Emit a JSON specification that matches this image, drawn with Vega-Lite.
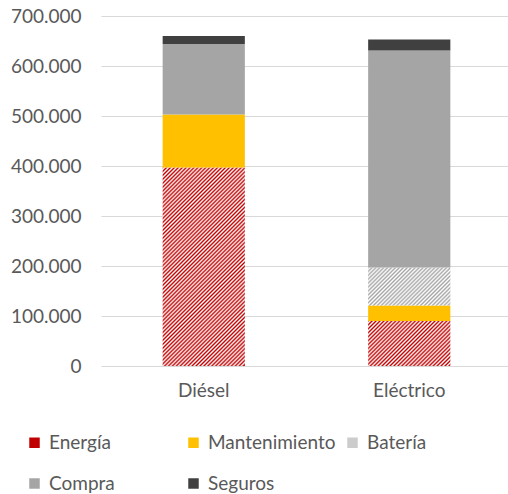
{
  "$schema": "https://vega.github.io/schema/vega-lite/v6.json",
  "width": 411,
  "height": 350,
  "autosize": {"type": "none"},
  "padding": {"left": 101, "top": 16, "right": 0, "bottom": 128},
  "background": "white",
  "data": {
    "values": [
      {"tipo": "Diésel", "concepto": "Energía", "valor": 397000, "orden": 1},
      {"tipo": "Diésel", "concepto": "Mantenimiento", "valor": 106000, "orden": 2},
      {"tipo": "Diésel", "concepto": "Compra", "valor": 141000, "orden": 4},
      {"tipo": "Diésel", "concepto": "Seguros", "valor": 16000, "orden": 5},
      {"tipo": "Eléctrico", "concepto": "Energía", "valor": 90000, "orden": 1},
      {"tipo": "Eléctrico", "concepto": "Mantenimiento", "valor": 31000, "orden": 2},
      {"tipo": "Eléctrico", "concepto": "Batería", "valor": 76000, "orden": 3},
      {"tipo": "Eléctrico", "concepto": "Compra", "valor": 434000, "orden": 4},
      {"tipo": "Eléctrico", "concepto": "Seguros", "valor": 22000, "orden": 5}
    ]
  },
  "mark": {"type": "bar"},
  "encoding": {
    "x": {
      "field": "tipo", "type": "nominal", "sort": ["Diésel", "Eléctrico"],
      "scale": {"paddingInner": 0.6, "paddingOuter": 0.3},
      "axis": {"title": null, "labelAngle": 0, "labelPadding": 15, "ticks": false, "domain": false, "labelFontSize": 19, "labelColor": "#595959", "grid": false}
    },
    "y": {
      "field": "valor", "type": "quantitative", "stack": "zero",
      "scale": {"domain": [0, 700000]},
      "axis": {"title": null, "values": [0, 100000, 200000, 300000, 400000, 500000, 600000, 700000], "format": ",d", "labelPadding": 20, "ticks": false, "domain": false, "gridColor": "#d9d9d9", "gridWidth": 1, "labelFontSize": 19, "labelColor": "#595959"}
    },
    "order": {"field": "orden", "type": "quantitative", "sort": "ascending"},
    "color": {
      "condition": [
        {"test": "datum.concepto === 'Energía' && datum.tipo === 'Diésel'", "value": {"gradient": "linear", "x1": 0, "y1": 0, "x2": 0.4999, "y2": 1.2071, "stops": [
          {"offset": 0, "color": "#c00000"}, {"offset": 0.007, "color": "#ffffff"}, {"offset": 0.014, "color": "#c00000"}, {"offset": 0.021, "color": "#ffffff"}, {"offset": 0.028, "color": "#c00000"}, {"offset": 0.035, "color": "#ffffff"}, {"offset": 0.042, "color": "#c00000"}, {"offset": 0.049, "color": "#ffffff"}, {"offset": 0.056, "color": "#c00000"}, {"offset": 0.063, "color": "#ffffff"},
          {"offset": 0.07, "color": "#c00000"}, {"offset": 0.077, "color": "#ffffff"}, {"offset": 0.084, "color": "#c00000"}, {"offset": 0.091, "color": "#ffffff"}, {"offset": 0.098, "color": "#c00000"}, {"offset": 0.105, "color": "#ffffff"}, {"offset": 0.112, "color": "#c00000"}, {"offset": 0.119, "color": "#ffffff"}, {"offset": 0.126, "color": "#c00000"}, {"offset": 0.133, "color": "#ffffff"},
          {"offset": 0.14, "color": "#c00000"}, {"offset": 0.147, "color": "#ffffff"}, {"offset": 0.154, "color": "#c00000"}, {"offset": 0.161, "color": "#ffffff"}, {"offset": 0.168, "color": "#c00000"}, {"offset": 0.175, "color": "#ffffff"}, {"offset": 0.182, "color": "#c00000"}, {"offset": 0.189, "color": "#ffffff"}, {"offset": 0.196, "color": "#c00000"}, {"offset": 0.203, "color": "#ffffff"},
          {"offset": 0.21, "color": "#c00000"}, {"offset": 0.217, "color": "#ffffff"}, {"offset": 0.224, "color": "#c00000"}, {"offset": 0.231, "color": "#ffffff"}, {"offset": 0.238, "color": "#c00000"}, {"offset": 0.245, "color": "#ffffff"}, {"offset": 0.252, "color": "#c00000"}, {"offset": 0.259, "color": "#ffffff"}, {"offset": 0.266, "color": "#c00000"}, {"offset": 0.273, "color": "#ffffff"},
          {"offset": 0.28, "color": "#c00000"}, {"offset": 0.287, "color": "#ffffff"}, {"offset": 0.294, "color": "#c00000"}, {"offset": 0.301, "color": "#ffffff"}, {"offset": 0.308, "color": "#c00000"}, {"offset": 0.315, "color": "#ffffff"}, {"offset": 0.322, "color": "#c00000"}, {"offset": 0.329, "color": "#ffffff"}, {"offset": 0.336, "color": "#c00000"}, {"offset": 0.343, "color": "#ffffff"},
          {"offset": 0.35, "color": "#c00000"}, {"offset": 0.357, "color": "#ffffff"}, {"offset": 0.364, "color": "#c00000"}, {"offset": 0.371, "color": "#ffffff"}, {"offset": 0.378, "color": "#c00000"}, {"offset": 0.385, "color": "#ffffff"}, {"offset": 0.392, "color": "#c00000"}, {"offset": 0.399, "color": "#ffffff"}, {"offset": 0.406, "color": "#c00000"}, {"offset": 0.413, "color": "#ffffff"},
          {"offset": 0.42, "color": "#c00000"}, {"offset": 0.427, "color": "#ffffff"}, {"offset": 0.434, "color": "#c00000"}, {"offset": 0.441, "color": "#ffffff"}, {"offset": 0.448, "color": "#c00000"}, {"offset": 0.455, "color": "#ffffff"}, {"offset": 0.462, "color": "#c00000"}, {"offset": 0.469, "color": "#ffffff"}, {"offset": 0.476, "color": "#c00000"}, {"offset": 0.483, "color": "#ffffff"},
          {"offset": 0.49, "color": "#c00000"}, {"offset": 0.497, "color": "#ffffff"}, {"offset": 0.504, "color": "#c00000"}, {"offset": 0.511, "color": "#ffffff"}, {"offset": 0.518, "color": "#c00000"}, {"offset": 0.525, "color": "#ffffff"}, {"offset": 0.532, "color": "#c00000"}, {"offset": 0.539, "color": "#ffffff"}, {"offset": 0.546, "color": "#c00000"}, {"offset": 0.553, "color": "#ffffff"},
          {"offset": 0.56, "color": "#c00000"}, {"offset": 0.567, "color": "#ffffff"}, {"offset": 0.574, "color": "#c00000"}, {"offset": 0.581, "color": "#ffffff"}, {"offset": 0.588, "color": "#c00000"}, {"offset": 0.595, "color": "#ffffff"}, {"offset": 0.602, "color": "#c00000"}, {"offset": 0.609, "color": "#ffffff"}, {"offset": 0.616, "color": "#c00000"}, {"offset": 0.623, "color": "#ffffff"},
          {"offset": 0.63, "color": "#c00000"}, {"offset": 0.637, "color": "#ffffff"}, {"offset": 0.644, "color": "#c00000"}, {"offset": 0.651, "color": "#ffffff"}, {"offset": 0.658, "color": "#c00000"}, {"offset": 0.665, "color": "#ffffff"}, {"offset": 0.672, "color": "#c00000"}, {"offset": 0.679, "color": "#ffffff"}, {"offset": 0.686, "color": "#c00000"}, {"offset": 0.693, "color": "#ffffff"},
          {"offset": 0.7, "color": "#c00000"}, {"offset": 0.707, "color": "#ffffff"}, {"offset": 0.714, "color": "#c00000"}, {"offset": 0.721, "color": "#ffffff"}, {"offset": 0.728, "color": "#c00000"}, {"offset": 0.735, "color": "#ffffff"}, {"offset": 0.742, "color": "#c00000"}, {"offset": 0.749, "color": "#ffffff"}, {"offset": 0.756, "color": "#c00000"}, {"offset": 0.763, "color": "#ffffff"},
          {"offset": 0.77, "color": "#c00000"}, {"offset": 0.777, "color": "#ffffff"}, {"offset": 0.784, "color": "#c00000"}, {"offset": 0.791, "color": "#ffffff"}, {"offset": 0.798, "color": "#c00000"}, {"offset": 0.805, "color": "#ffffff"}, {"offset": 0.812, "color": "#c00000"}, {"offset": 0.819, "color": "#ffffff"}, {"offset": 0.826, "color": "#c00000"}, {"offset": 0.833, "color": "#ffffff"},
          {"offset": 0.84, "color": "#c00000"}, {"offset": 0.847, "color": "#ffffff"}, {"offset": 0.854, "color": "#c00000"}, {"offset": 0.861, "color": "#ffffff"}, {"offset": 0.868, "color": "#c00000"}, {"offset": 0.875, "color": "#ffffff"}, {"offset": 0.882, "color": "#c00000"}, {"offset": 0.889, "color": "#ffffff"}, {"offset": 0.896, "color": "#c00000"}, {"offset": 0.903, "color": "#ffffff"},
          {"offset": 0.91, "color": "#c00000"}, {"offset": 0.917, "color": "#ffffff"}, {"offset": 0.924, "color": "#c00000"}, {"offset": 0.931, "color": "#ffffff"}, {"offset": 0.938, "color": "#c00000"}, {"offset": 0.945, "color": "#ffffff"}, {"offset": 0.952, "color": "#c00000"}, {"offset": 0.959, "color": "#ffffff"}, {"offset": 0.966, "color": "#c00000"}, {"offset": 0.973, "color": "#ffffff"},
          {"offset": 0.98, "color": "#c00000"}, {"offset": 0.987, "color": "#ffffff"}, {"offset": 0.994, "color": "#c00000"}
        ]}},
        {"test": "datum.concepto === 'Energía' && datum.tipo === 'Eléctrico'", "value": {"gradient": "linear", "x1": 0, "y1": 0, "x2": 2.6274, "y2": 1.4383, "stops": [
          {"offset": 0, "color": "#c00000"}, {"offset": 0.007, "color": "#ffffff"}, {"offset": 0.014, "color": "#c00000"}, {"offset": 0.021, "color": "#ffffff"}, {"offset": 0.028, "color": "#c00000"}, {"offset": 0.035, "color": "#ffffff"}, {"offset": 0.042, "color": "#c00000"}, {"offset": 0.049, "color": "#ffffff"}, {"offset": 0.056, "color": "#c00000"}, {"offset": 0.063, "color": "#ffffff"},
          {"offset": 0.07, "color": "#c00000"}, {"offset": 0.077, "color": "#ffffff"}, {"offset": 0.084, "color": "#c00000"}, {"offset": 0.091, "color": "#ffffff"}, {"offset": 0.098, "color": "#c00000"}, {"offset": 0.105, "color": "#ffffff"}, {"offset": 0.112, "color": "#c00000"}, {"offset": 0.119, "color": "#ffffff"}, {"offset": 0.126, "color": "#c00000"}, {"offset": 0.133, "color": "#ffffff"},
          {"offset": 0.14, "color": "#c00000"}, {"offset": 0.147, "color": "#ffffff"}, {"offset": 0.154, "color": "#c00000"}, {"offset": 0.161, "color": "#ffffff"}, {"offset": 0.168, "color": "#c00000"}, {"offset": 0.175, "color": "#ffffff"}, {"offset": 0.182, "color": "#c00000"}, {"offset": 0.189, "color": "#ffffff"}, {"offset": 0.196, "color": "#c00000"}, {"offset": 0.203, "color": "#ffffff"},
          {"offset": 0.21, "color": "#c00000"}, {"offset": 0.217, "color": "#ffffff"}, {"offset": 0.224, "color": "#c00000"}, {"offset": 0.231, "color": "#ffffff"}, {"offset": 0.238, "color": "#c00000"}, {"offset": 0.245, "color": "#ffffff"}, {"offset": 0.252, "color": "#c00000"}, {"offset": 0.259, "color": "#ffffff"}, {"offset": 0.266, "color": "#c00000"}, {"offset": 0.273, "color": "#ffffff"},
          {"offset": 0.28, "color": "#c00000"}, {"offset": 0.287, "color": "#ffffff"}, {"offset": 0.294, "color": "#c00000"}, {"offset": 0.301, "color": "#ffffff"}, {"offset": 0.308, "color": "#c00000"}, {"offset": 0.315, "color": "#ffffff"}, {"offset": 0.322, "color": "#c00000"}, {"offset": 0.329, "color": "#ffffff"}, {"offset": 0.336, "color": "#c00000"}, {"offset": 0.343, "color": "#ffffff"},
          {"offset": 0.35, "color": "#c00000"}, {"offset": 0.357, "color": "#ffffff"}, {"offset": 0.364, "color": "#c00000"}, {"offset": 0.371, "color": "#ffffff"}, {"offset": 0.378, "color": "#c00000"}, {"offset": 0.385, "color": "#ffffff"}, {"offset": 0.392, "color": "#c00000"}, {"offset": 0.399, "color": "#ffffff"}, {"offset": 0.406, "color": "#c00000"}, {"offset": 0.413, "color": "#ffffff"},
          {"offset": 0.42, "color": "#c00000"}, {"offset": 0.427, "color": "#ffffff"}, {"offset": 0.434, "color": "#c00000"}, {"offset": 0.441, "color": "#ffffff"}, {"offset": 0.448, "color": "#c00000"}, {"offset": 0.455, "color": "#ffffff"}, {"offset": 0.462, "color": "#c00000"}
        ]}},
        {"test": "datum.concepto === 'Batería'", "value": {"gradient": "linear", "x1": 0, "y1": 0, "x2": 2.8135, "y2": 1.3007, "stops": [
          {"offset": 0, "color": "#a5a5a5"}, {"offset": 0.007, "color": "#ffffff"}, {"offset": 0.014, "color": "#a5a5a5"}, {"offset": 0.021, "color": "#ffffff"}, {"offset": 0.028, "color": "#a5a5a5"}, {"offset": 0.035, "color": "#ffffff"}, {"offset": 0.042, "color": "#a5a5a5"}, {"offset": 0.049, "color": "#ffffff"}, {"offset": 0.056, "color": "#a5a5a5"}, {"offset": 0.063, "color": "#ffffff"},
          {"offset": 0.07, "color": "#a5a5a5"}, {"offset": 0.077, "color": "#ffffff"}, {"offset": 0.084, "color": "#a5a5a5"}, {"offset": 0.091, "color": "#ffffff"}, {"offset": 0.098, "color": "#a5a5a5"}, {"offset": 0.105, "color": "#ffffff"}, {"offset": 0.112, "color": "#a5a5a5"}, {"offset": 0.119, "color": "#ffffff"}, {"offset": 0.126, "color": "#a5a5a5"}, {"offset": 0.133, "color": "#ffffff"},
          {"offset": 0.14, "color": "#a5a5a5"}, {"offset": 0.147, "color": "#ffffff"}, {"offset": 0.154, "color": "#a5a5a5"}, {"offset": 0.161, "color": "#ffffff"}, {"offset": 0.168, "color": "#a5a5a5"}, {"offset": 0.175, "color": "#ffffff"}, {"offset": 0.182, "color": "#a5a5a5"}, {"offset": 0.189, "color": "#ffffff"}, {"offset": 0.196, "color": "#a5a5a5"}, {"offset": 0.203, "color": "#ffffff"},
          {"offset": 0.21, "color": "#a5a5a5"}, {"offset": 0.217, "color": "#ffffff"}, {"offset": 0.224, "color": "#a5a5a5"}, {"offset": 0.231, "color": "#ffffff"}, {"offset": 0.238, "color": "#a5a5a5"}, {"offset": 0.245, "color": "#ffffff"}, {"offset": 0.252, "color": "#a5a5a5"}, {"offset": 0.259, "color": "#ffffff"}, {"offset": 0.266, "color": "#a5a5a5"}, {"offset": 0.273, "color": "#ffffff"},
          {"offset": 0.28, "color": "#a5a5a5"}, {"offset": 0.287, "color": "#ffffff"}, {"offset": 0.294, "color": "#a5a5a5"}, {"offset": 0.301, "color": "#ffffff"}, {"offset": 0.308, "color": "#a5a5a5"}, {"offset": 0.315, "color": "#ffffff"}, {"offset": 0.322, "color": "#a5a5a5"}, {"offset": 0.329, "color": "#ffffff"}, {"offset": 0.336, "color": "#a5a5a5"}, {"offset": 0.343, "color": "#ffffff"},
          {"offset": 0.35, "color": "#a5a5a5"}, {"offset": 0.357, "color": "#ffffff"}, {"offset": 0.364, "color": "#a5a5a5"}, {"offset": 0.371, "color": "#ffffff"}, {"offset": 0.378, "color": "#a5a5a5"}, {"offset": 0.385, "color": "#ffffff"}, {"offset": 0.392, "color": "#a5a5a5"}, {"offset": 0.399, "color": "#ffffff"}, {"offset": 0.406, "color": "#a5a5a5"}, {"offset": 0.413, "color": "#ffffff"},
          {"offset": 0.42, "color": "#a5a5a5"}, {"offset": 0.427, "color": "#ffffff"}, {"offset": 0.434, "color": "#a5a5a5"}, {"offset": 0.441, "color": "#ffffff"}, {"offset": 0.448, "color": "#a5a5a5"}
        ]}}
      ],
      "field": "concepto", "type": "nominal",
      "scale": {"domain": ["Energía", "Mantenimiento", "Batería", "Compra", "Seguros"], "range": ["#c00000", "#ffc000", "#cccccc", "#a5a5a5", "#404040"]},
      "legend": {
        "title": null, "orient": "none", "legendX": -76, "legendY": 417, "direction": "horizontal",
        "columns": 3, "gridAlign": "all", "columnPadding": 7, "rowPadding": 21, "padding": 0,
        "symbolType": "square", "symbolSize": 110, "symbolStrokeWidth": 0, "symbolOpacity": 1,
        "labelFontSize": 19, "labelColor": "#595959", "labelOffset": 5, "labelLimit": 300,
        "encode": {"symbols": {"update": {
          "fill": {"signal": "datum.value === 'Energía' ? {gradient: 'linear', x1: 0, y1: 0, x2: 1, y2: 1, stops: [{offset: 0, color: '#c00000'}, {offset: 0.125, color: '#c00000'}, {offset: 0.125, color: '#ffffff'}, {offset: 0.25, color: '#ffffff'}, {offset: 0.25, color: '#c00000'}, {offset: 0.375, color: '#c00000'}, {offset: 0.375, color: '#ffffff'}, {offset: 0.5, color: '#ffffff'}, {offset: 0.5, color: '#c00000'}, {offset: 0.625, color: '#c00000'}, {offset: 0.625, color: '#ffffff'}, {offset: 0.75, color: '#ffffff'}, {offset: 0.75, color: '#c00000'}, {offset: 0.875, color: '#c00000'}, {offset: 0.875, color: '#ffffff'}, {offset: 1, color: '#ffffff'}]} : datum.value === 'Batería' ? {gradient: 'linear', x1: 0, y1: 0, x2: 1, y2: 1, stops: [{offset: 0, color: '#b0b0b0'}, {offset: 0.125, color: '#b0b0b0'}, {offset: 0.125, color: '#ffffff'}, {offset: 0.25, color: '#ffffff'}, {offset: 0.25, color: '#b0b0b0'}, {offset: 0.375, color: '#b0b0b0'}, {offset: 0.375, color: '#ffffff'}, {offset: 0.5, color: '#ffffff'}, {offset: 0.5, color: '#b0b0b0'}, {offset: 0.625, color: '#b0b0b0'}, {offset: 0.625, color: '#ffffff'}, {offset: 0.75, color: '#ffffff'}, {offset: 0.75, color: '#b0b0b0'}, {offset: 0.875, color: '#b0b0b0'}, {offset: 0.875, color: '#ffffff'}, {offset: 1, color: '#ffffff'}]} : scale('color', datum.value)"}
        }}}
      }
    }
  },
  "config": {
    "font": "Lato",
    "view": {"stroke": null},
    "locale": {"number": {"decimal": ",", "thousands": ".", "grouping": [3], "currency": ["", " €"]}}
  }
}
